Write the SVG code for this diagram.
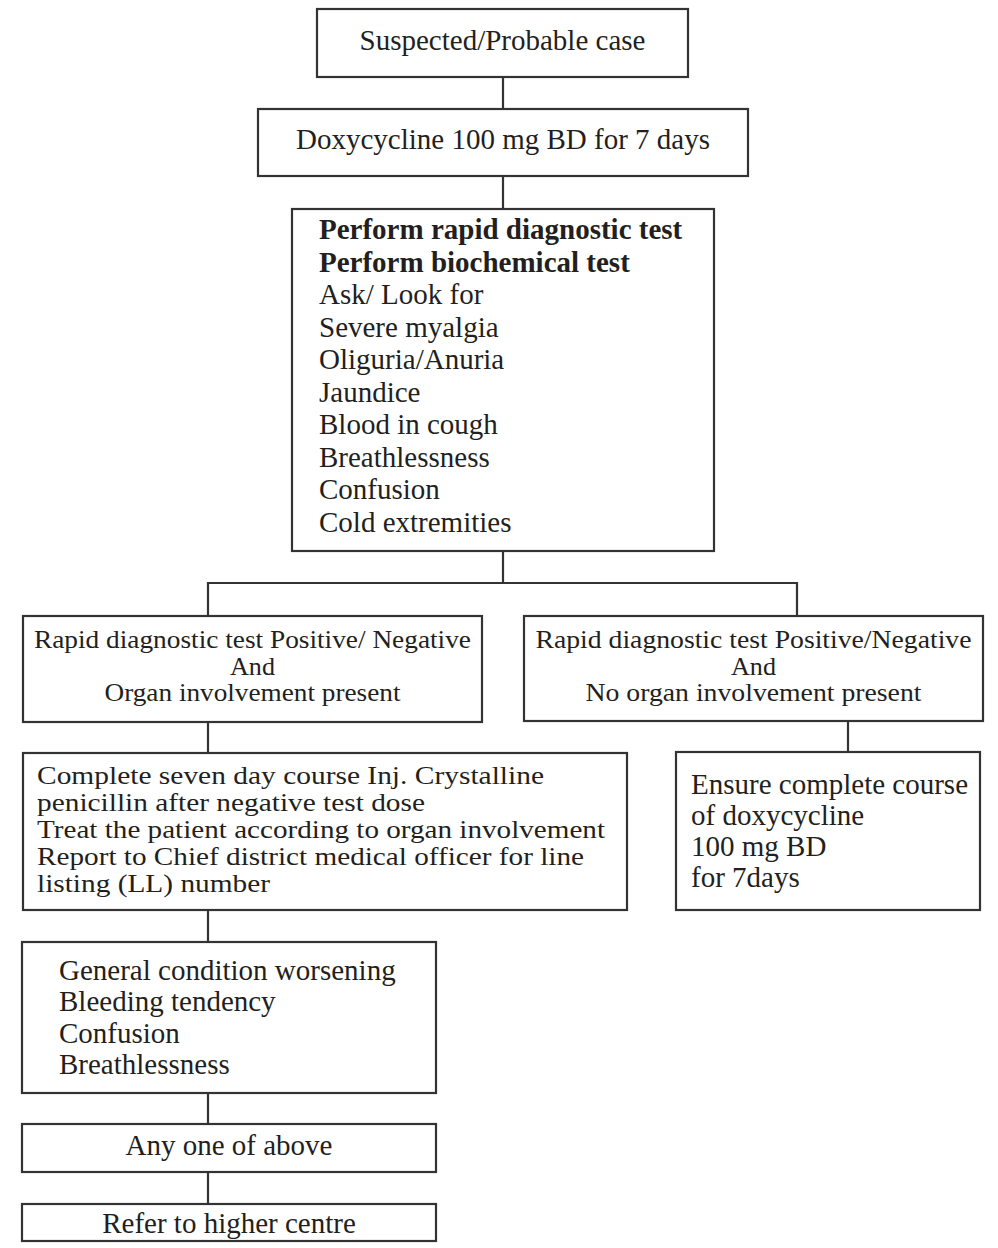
<svg xmlns="http://www.w3.org/2000/svg" width="998" height="1248" viewBox="0 0 998 1248">
<style>
.box{fill:#fff;stroke:#333;stroke-width:2.2}
.ln{fill:none;stroke:#333;stroke-width:2.2}
text{font-family:"Liberation Serif","Times New Roman",serif;fill:#231f20;font-size:29px}
.c{text-anchor:middle}
.b{font-weight:bold}
.m{font-size:25px}
.t{font-size:25px}
</style>
<rect width="998" height="1248" fill="#fff"/>
<g id="connectors">
<line class="ln" x1="503" y1="77" x2="503" y2="109"/>
<line class="ln" x1="503" y1="176" x2="503" y2="209"/>
<line class="ln" x1="503" y1="551" x2="503" y2="583"/>
<polyline class="ln" points="208,616 208,583 797,583 797,616"/>
<line class="ln" x1="208" y1="722" x2="208" y2="753"/>
<line class="ln" x1="848" y1="721" x2="848" y2="752"/>
<line class="ln" x1="208" y1="910" x2="208" y2="942"/>
<line class="ln" x1="208" y1="1093" x2="208" y2="1124"/>
<line class="ln" x1="208" y1="1172" x2="208" y2="1204"/>
</g>
<g id="n1">
<rect class="box" x="317" y="9" width="371" height="68"/>
<text class="c" x="502.5" y="50">Suspected/Probable case</text>
</g>
<g id="n2">
<rect class="box" x="258" y="109" width="490" height="67"/>
<text class="c" x="503" y="149">Doxycycline 100 mg BD for 7 days</text>
</g>
<g id="n3">
<rect class="box" x="292" y="209" width="422" height="342"/>
<text class="b" x="319" y="239">Perform rapid diagnostic test</text>
<text class="b" x="319" y="271.5">Perform biochemical test</text>
<text x="319" y="304">Ask/ Look for</text>
<text x="319" y="336.5">Severe myalgia</text>
<text x="319" y="369">Oliguria/Anuria</text>
<text x="319" y="401.5">Jaundice</text>
<text x="319" y="434">Blood in cough</text>
<text x="319" y="466.5">Breathlessness</text>
<text x="319" y="499">Confusion</text>
<text x="319" y="531.5">Cold extremities</text>
</g>
<g id="n4">
<rect class="box" x="23" y="616" width="459" height="106"/>
<text class="c m" x="252.5" y="648" textLength="437" lengthAdjust="spacingAndGlyphs">Rapid diagnostic test Positive/ Negative</text>
<text class="c m" x="252.5" y="674.5" textLength="45" lengthAdjust="spacingAndGlyphs">And</text>
<text class="c m" x="252.5" y="701" textLength="296" lengthAdjust="spacingAndGlyphs">Organ involvement present</text>
</g>
<g id="n5">
<rect class="box" x="524" y="616" width="459" height="105"/>
<text class="c m" x="753.5" y="648" textLength="436" lengthAdjust="spacingAndGlyphs">Rapid diagnostic test Positive/Negative</text>
<text class="c m" x="753.5" y="674.5" textLength="45" lengthAdjust="spacingAndGlyphs">And</text>
<text class="c m" x="753.5" y="701" textLength="336" lengthAdjust="spacingAndGlyphs">No organ involvement present</text>
</g>
<g id="n6">
<rect class="box" x="23" y="753" width="604" height="157"/>
<text class="t" x="37" y="784" textLength="507" lengthAdjust="spacingAndGlyphs">Complete seven day course Inj. Crystalline</text>
<text class="t" x="37" y="811" textLength="388" lengthAdjust="spacingAndGlyphs">penicillin after negative test dose</text>
<text class="t" x="37" y="838" textLength="568" lengthAdjust="spacingAndGlyphs">Treat the patient according to organ involvement</text>
<text class="t" x="37" y="865" textLength="547" lengthAdjust="spacingAndGlyphs">Report to Chief district medical officer for line</text>
<text class="t" x="37" y="892" textLength="233" lengthAdjust="spacingAndGlyphs">listing (LL) number</text>
</g>
<g id="n7">
<rect class="box" x="676" y="752" width="304" height="158"/>
<text x="691" y="794">Ensure complete course</text>
<text x="691" y="825">of doxycycline</text>
<text x="691" y="856">100 mg BD</text>
<text x="691" y="887">for 7days</text>
</g>
<g id="n8">
<rect class="box" x="22" y="942" width="414" height="151"/>
<text x="59" y="980">General condition worsening</text>
<text x="59" y="1011">Bleeding tendency</text>
<text x="59" y="1043">Confusion</text>
<text x="59" y="1074">Breathlessness</text>
</g>
<g id="n9">
<rect class="box" x="22" y="1124" width="414" height="48"/>
<text class="c" x="229" y="1155">Any one of above</text>
</g>
<g id="n10">
<rect class="box" x="22" y="1204" width="414" height="37"/>
<text class="c" x="229" y="1233">Refer to higher centre</text>
</g>
</svg>
